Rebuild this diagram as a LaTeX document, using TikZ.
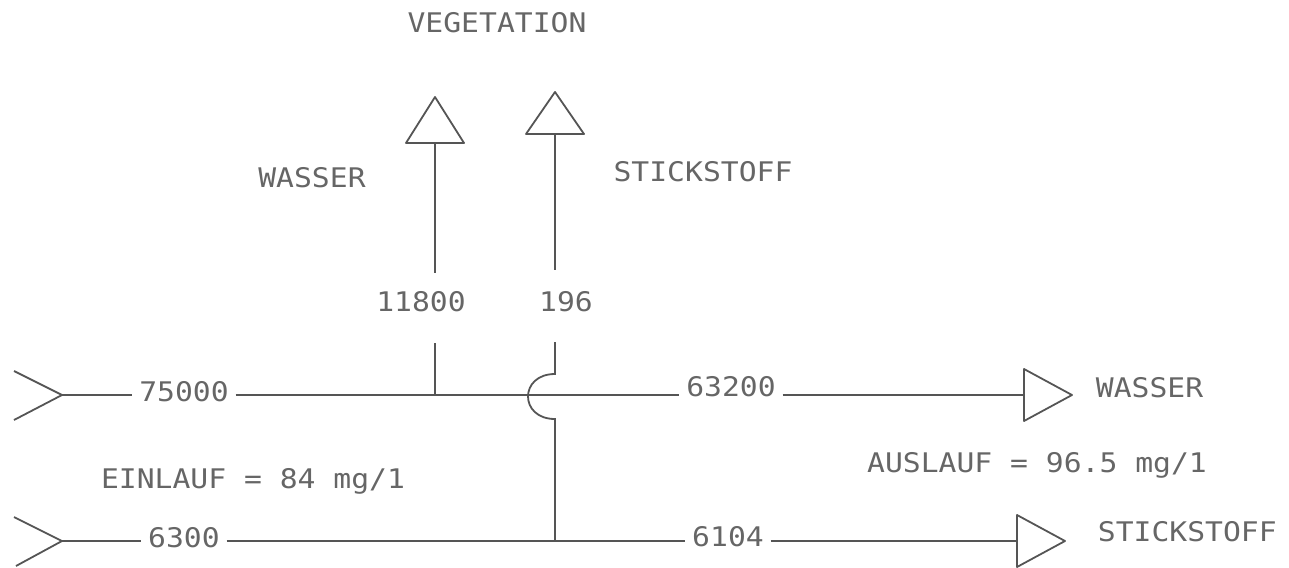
\documentclass[tikz,border=0pt]{standalone}
\usepackage{fontspec}
\newfontfamily\plotfont[FakeStretch=1.1]{DejaVu Sans Mono}
\usetikzlibrary{calc}
\definecolor{ink}{HTML}{555555}
\definecolor{txt}{HTML}{666666}

\begin{document}
\begin{tikzpicture}[x=1pt,y=-1pt,line width=1.8pt,draw=ink,
  lbl/.style={text=txt,font=\plotfont\fontsize{27}{32}\selectfont,inner sep=0pt},
  qty/.style={lbl,inner xsep=6pt}]
  \useasboundingbox (0,0) rectangle (1289,567);
  % junctions and ends
  \coordinate (inW) at (62,395);
  \coordinate (inN) at (62,541);
  \coordinate (jW) at (435,395);
  \coordinate (jN) at (555,541);
  \coordinate (vW) at (435,143);
  \coordinate (vN) at (555,134);
  \coordinate (oW) at (1024,395);
  \coordinate (oN) at (1017,541);
  \coordinate (wa) at (435,273);
  \coordinate (wb) at (435,343);
  \coordinate (na) at (555,270);
  \coordinate (nb) at (555,342);
  \coordinate (hopA) at (555,374);
  \coordinate (hopB) at (555,419);
  % texts
  \node[lbl] (veg) at (497,23) {VEGETATION};
  \node[lbl] (tW) at (312,178) {WASSER};
  \node[lbl] (tN) at (703,172) {STICKSTOFF};
  \node[lbl] (q118) at (421,302) {11800};
  \node[lbl] (q196) at (566,302) {196};
  \node[qty] (q75) at (184,392) {75000};
  \node[qty] (q632) at (731,387) {63200};
  \node[qty] (q63) at (184,538) {6300};
  \node[qty] (q614) at (728,537) {6104};
  \node[lbl] (ein) at (253,481) {EINLAUF = 84 mg/1};
  \node[lbl] (aus) at (1037,465) {AUSLAUF = 96.5 mg/1};
  \node[lbl,anchor=west] (oWt) at (1095,388) {WASSER};
  \node[lbl,anchor=west] (oNt) at (1097,532) {STICKSTOFF};
  % inlets
  \draw (14,371) -- (inW) -- (14,420);
  \draw (14,517) -- (inN) -- (16,566);
  % water line
  \draw (inW) -- (inW -| q75.west);
  \draw (inW -| q75.east) -- (inW -| q632.west);
  \draw (inW -| q632.east) -- (oW);
  % nitrogen line
  \draw (inN) -- (inN -| q63.west);
  \draw (inN -| q63.east) -- (inN -| q614.west);
  \draw (inN -| q614.east) -- (oN);
  % branches to vegetation
  \draw (vW) -- (wa);
  \draw (wb) -- (jW);
  \draw (vN) -- (na);
  \draw (nb) -- (hopA) .. controls (519,374) and (519,419) .. (hopB) -- (jN);
  % arrow heads
  \foreach \c/\h in {vW/46, vN/42}
    \draw[line join=round] (\c) ++(-29,0) -- ++(58,0) -- ++(-29,-\h) -- cycle;
  \foreach \c in {oW, oN}
    \draw[line join=round] (\c) ++(0,-26) -- ++(0,52) -- ++(48,-26) -- cycle;
\end{tikzpicture}
\end{document}
